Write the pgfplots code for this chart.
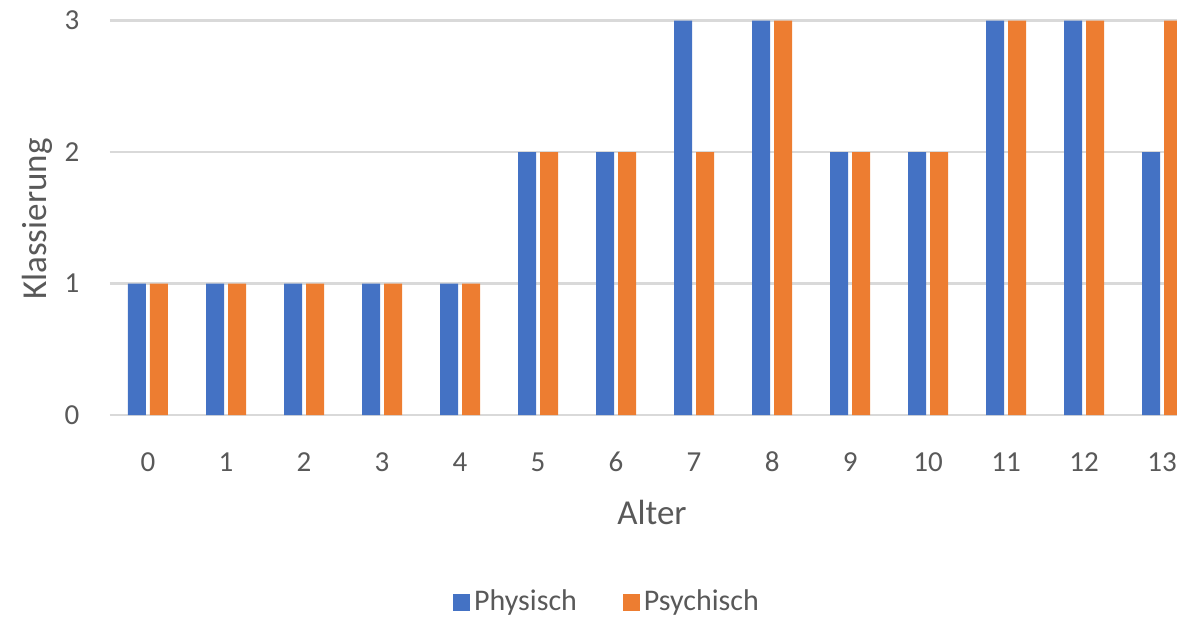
\documentclass[border=0pt]{standalone}
\usepackage{fontspec}
\setmainfont{Carlito}
\usepackage{pgfplots}
\pgfplotsset{compat=1.18}
\definecolor{xlblue}{HTML}{4472C4}
\definecolor{xlorange}{HTML}{ED7D31}
\definecolor{xlgrid}{HTML}{D9D9D9}
\definecolor{xltext}{HTML}{595959}
\begin{document}
\begin{tikzpicture}
\useasboundingbox (-55pt,-101pt) rectangle (533.5pt,207.5pt);
\begin{axis}[
    scale only axis,
    width=533.5pt, height=197.5pt,
    ybar=2pt, bar width=9pt,
    xmin=-0.487, xmax=13.19,
    ymin=0, ymax=3.005,
    xtick={0,...,13},
    ytick={0,1,2,3},
    major tick length=0pt,
    axis line style={draw=none},
    ymajorgrids=true,
    grid style={color=xlgrid, line width=1.3pt},
    /pgf/number format/assume math mode=true,
    tick label style={font=\fontsize{14.5}{16}\selectfont, text=xltext},
    xticklabel style={anchor=center, yshift=-23.5pt},
    yticklabel style={anchor=center, xshift=-19pt},
    xlabel={Alter},
    ylabel={Klassierung},
    label style={font=\fontsize{17.5}{19}\selectfont, text=xltext},
    xlabel style={at={(axis description cs:0.508,0)}, anchor=center, yshift=-48.5pt},
    ylabel style={at={(axis description cs:0,0.496)}, anchor=center, rotate=0, yshift=36.5pt},
    legend columns=2,
    legend style={draw=none, fill=none, at={(axis description cs:0,0)}, anchor=center,
        xshift=249pt, yshift=-93.5pt, font=\fontsize{15}{17}\selectfont, text=xltext,
        /tikz/every even column/.append style={column sep=21pt}},
    legend image code/.code={\fill[#1] (0pt,-4.25pt) rectangle (8.5pt,4.25pt);},
]
\addplot[fill=xlblue, draw=none] coordinates {
(0,1) (1,1) (2,1) (3,1) (4,1) (5,2) (6,2) (7,3) (8,3) (9,2) (10,2) (11,3) (12,3) (13,2)
};
\addlegendentry{Physisch}
\addplot[fill=xlorange, draw=none] coordinates {
(0,1) (1,1) (2,1) (3,1) (4,1) (5,2) (6,2) (7,2) (8,3) (9,2) (10,2) (11,3) (12,3) (13,3)
};
\addlegendentry{Psychisch}
\end{axis}
\end{tikzpicture}
\end{document}
